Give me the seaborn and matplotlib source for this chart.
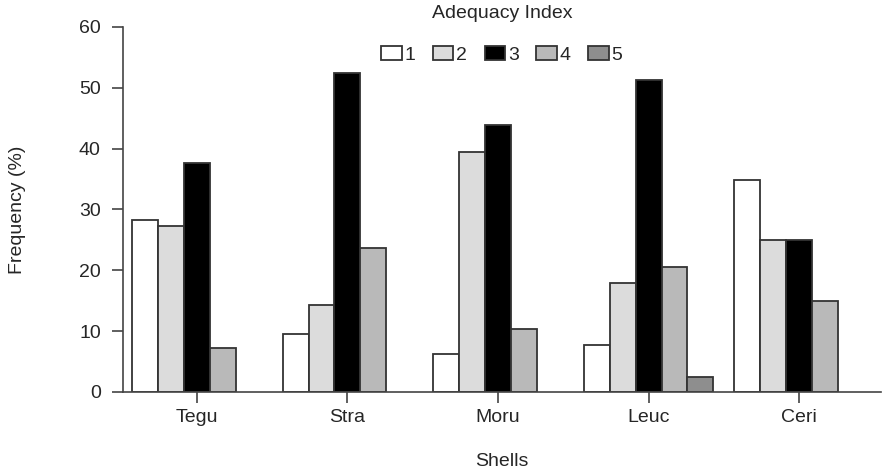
import pandas as pd
import matplotlib
matplotlib.use('Agg')
import matplotlib.pyplot as plt
import seaborn as sns

# data
shells = ['Tegu', 'Stra', 'Moru', 'Leuc', 'Ceri']
index_levels = ['1', '2', '3', '4', '5']
freq_1 = [28.3, 9.5, 6.3, 7.8, 34.9]
freq_2 = [27.3, 14.3, 39.4, 17.9, 25.0]
freq_3 = [37.7, 52.5, 43.9, 51.3, 25.0]
freq_4 = [7.2, 23.7, 10.4, 20.5, 14.9]
freq_5 = [0.0, 0.0, 0.0, 2.4, 0.0]

colors = ['#ffffff', '#dcdcdc', '#000000', '#b9b9b9', '#8e8e8e']

sns.set_style('ticks')
plt.rcParams['font.family'] = ['Liberation Sans', 'DejaVu Sans']
fs = 14

rows = []
for lvl, vals in zip(index_levels, [freq_1, freq_2, freq_3, freq_4, freq_5]):
    for s, v in zip(shells, vals):
        rows.append({'Shells': s, 'Index': lvl, 'Freq': v})
df = pd.DataFrame(rows)

fig = plt.figure(figsize=(8.85, 4.76), dpi=100)
ax = fig.add_axes([0.139, 0.1765, 0.856, 0.767])
sns.barplot(data=df, x='Shells', y='Freq', hue='Index', order=shells,
            hue_order=index_levels, palette=colors, width=0.86,
            edgecolor='#333333', linewidth=1.3, ax=ax)

# zero bars should not leave an outline on the axis
for cont in ax.containers:
    for bar in cont:
        if bar.get_height() == 0:
            bar.set_linewidth(0)

ax.set_ylim(0, 60)
ax.set_xlim(-0.49, 4.54)
ax.set_yticks(range(0, 61, 10))
ax.set_xlabel('Shells', fontsize=fs, labelpad=20)
ax.set_ylabel('Frequency (%)', fontsize=fs, labelpad=38)
ax.tick_params(axis='both', labelsize=fs, color='#444444', width=1.2, length=8)
ax.tick_params(axis='y', pad=8)
ax.tick_params(axis='x', pad=4)
for sp in ['top', 'right']:
    ax.spines[sp].set_visible(False)
for sp in ['left', 'bottom']:
    ax.spines[sp].set_color('#444444')
    ax.spines[sp].set_linewidth(1.2)

ax.legend(title='Adequacy Index', loc='upper center', bbox_to_anchor=(0.5, 1.086),
          ncol=5, frameon=False, fontsize=fs, title_fontsize=fs, borderpad=0,
          handlelength=1.05, handleheight=0.77, handletextpad=0.15,
          columnspacing=0.9, labelspacing=1.2)

fig.savefig('out.png', dpi=100)
